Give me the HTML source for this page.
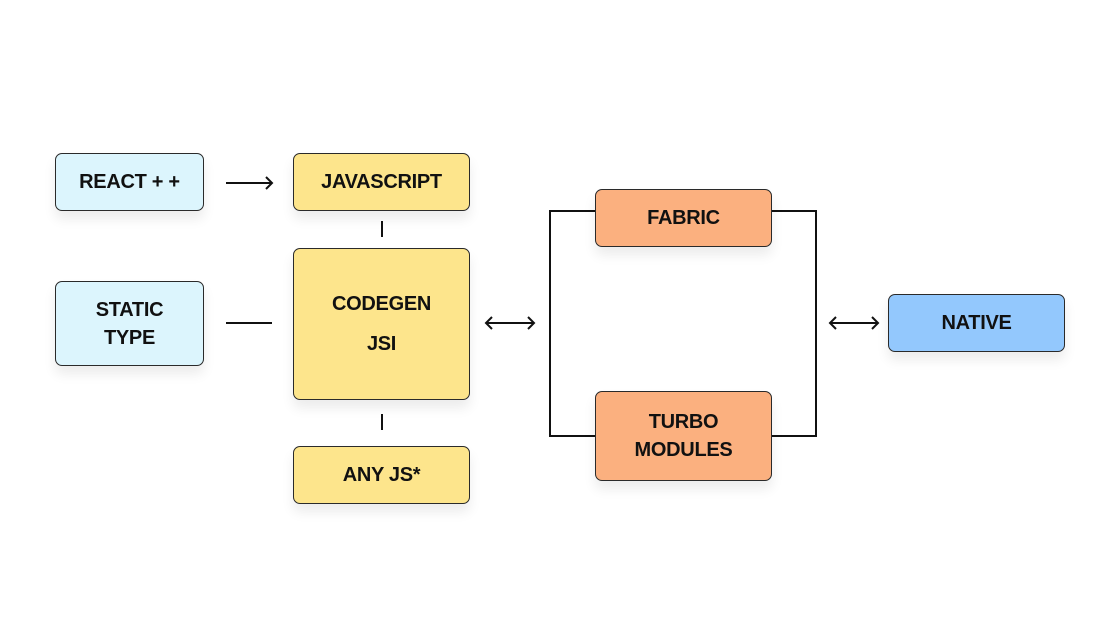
<!DOCTYPE html>
<html><head><meta charset="utf-8"><style>
html,body{margin:0;padding:0;background:#fff;}
body{width:1120px;height:630px;position:relative;overflow:hidden;font-family:"Liberation Sans",sans-serif;}
.b{position:absolute;box-sizing:border-box;border:1.5px solid #2a2a2a;border-radius:7px;display:flex;align-items:center;justify-content:center;text-align:center;font-weight:bold;font-size:20px;color:#111;line-height:28px;box-shadow:0 8px 12px rgba(0,0,0,0.08);letter-spacing:-0.3px}
.lb{background:#dcf5fd}.y{background:#fde58c}.o{background:#fbb07f}.nb{background:#93c8fd}
svg{position:absolute;left:0;top:0}
</style></head><body>
<svg width="1120" height="630">
<g stroke="#111" stroke-width="2" fill="none">
<line x1="226" y1="183" x2="272" y2="183"/><path d="M266 177 L272 183 L266 189"/>
<line x1="226" y1="323" x2="272" y2="323"/>
<line x1="382" y1="221" x2="382" y2="237"/>
<line x1="382" y1="414" x2="382" y2="430"/>
<line x1="486" y1="323" x2="534" y2="323"/><path d="M492 317 L486 323 L492 329 M528 317 L534 323 L528 329"/>
<line x1="830" y1="323" x2="878" y2="323"/><path d="M836 317 L830 323 L836 329 M872 317 L878 323 L872 329"/>
<path d="M596 211 H550 V436 H596 M771 211 H816 V436 H771"/>
</g></svg>
<div class="b lb" style="left:55px;top:153px;width:149px;height:58px">REACT + +</div>
<div class="b y" style="left:293px;top:153px;width:177px;height:58px">JAVASCRIPT</div>
<div class="b lb" style="left:55px;top:281px;width:149px;height:85px">STATIC<br>TYPE</div>
<div class="b y" style="left:293px;top:248px;width:177px;height:152px;line-height:40px">CODEGEN<br>JSI</div>
<div class="b y" style="left:293px;top:446px;width:177px;height:58px">ANY JS*</div>
<div class="b o" style="left:595px;top:189px;width:177px;height:58px">FABRIC</div>
<div class="b o" style="left:595px;top:391px;width:177px;height:90px">TURBO<br>MODULES</div>
<div class="b nb" style="left:888px;top:294px;width:177px;height:58px">NATIVE</div>
</body></html>
